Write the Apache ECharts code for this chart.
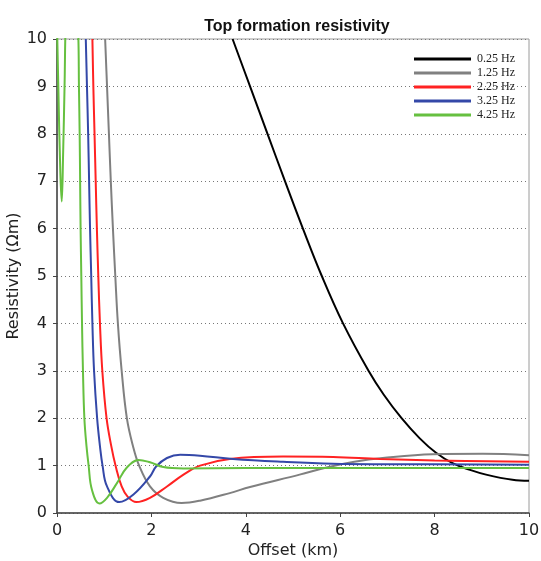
<!DOCTYPE html>
<html>
<head>
<meta charset="utf-8">
<script src="https://cdn.jsdelivr.net/npm/echarts@6/dist/echarts.min.js"></script>
<style>html,body{margin:0;padding:0;background:#fff}#c{width:541px;height:561px}</style>
</head>
<body>
<div id="c"></div>
<script>
var seriesNames = ['0.25 Hz', '1.25 Hz', '2.25 Hz', '3.25 Hz', '4.25 Hz'];
var xTicks = [0, 2, 4, 6, 8, 10];
var yTicks = [0, 1, 2, 3, 4, 5, 6, 7, 8, 9, 10];

var off_025 = [3.72, 4.09, 4.46, 4.83, 5.21, 5.61, 6.06, 6.60, 6.92, 7.30, 7.68, 8.03, 8.38, 8.75, 9.09, 9.65, 10.0];
var res_025 = [10.0, 9.0, 8.0, 7.0, 6.0, 5.0, 4.0, 3.0, 2.50, 2.0, 1.58, 1.27, 1.05, 0.91, 0.81, 0.70, 0.68];

var off_125 = [1.02, 1.06, 1.10, 1.14, 1.185, 1.235, 1.29, 1.37, 1.48, 1.61, 1.74, 1.97, 2.25, 2.64, 3.03, 3.66, 4.09, 5.14, 5.71, 6.30, 6.90, 7.96, 9.02, 10.0];
var res_125 = [10.0, 9.0, 8.0, 7.0, 6.0, 5.0, 4.0, 3.0, 2.0, 1.41, 1.0, 0.56, 0.32, 0.21, 0.26, 0.42, 0.55, 0.81, 0.96, 1.08, 1.16, 1.24, 1.25, 1.22];

var off_225 = [0.75, 0.77, 0.795, 0.82, 0.845, 0.875, 0.91, 0.96, 1.05, 1.15, 1.24, 1.37, 1.50, 1.68, 1.97, 2.33, 2.68, 3.03, 3.66, 4.79, 5.85, 6.84, 8.0, 10.0];
var res_225 = [10.0, 9.0, 8.0, 7.0, 6.0, 5.0, 4.0, 3.0, 2.0, 1.41, 1.0, 0.56, 0.34, 0.23, 0.32, 0.56, 0.81, 1.0, 1.14, 1.19, 1.18, 1.14, 1.11, 1.08];

var off_325 = [0.61, 0.635, 0.66, 0.68, 0.70, 0.725, 0.75, 0.785, 0.85, 0.91, 0.965, 1.06, 1.32, 1.62, 1.97, 2.10, 2.33, 2.61, 3.03, 3.73, 4.79, 5.85, 7.0, 10.0];
var res_325 = [10.0, 9.0, 8.0, 7.0, 6.0, 5.0, 4.0, 3.0, 2.0, 1.41, 1.0, 0.56, 0.23, 0.39, 0.77, 0.98, 1.16, 1.23, 1.21, 1.14, 1.08, 1.04, 1.03, 1.02];

var off_425 = [0.0, 0.03, 0.07, 0.10, 0.13, 0.16, 0.19, 0.32, 0.45, 0.465, 0.48, 0.49, 0.50, 0.515, 0.53, 0.55, 0.58, 0.625, 0.67, 0.74, 0.90, 1.06, 1.27, 1.48, 1.73, 1.97, 2.25, 2.68, 4.0, 10.0];
var res_425 = [10.3, 8.9, 7.2, 6.57, 7.6, 9.0, 10.5, 13.0, 10.1, 9.0, 8.0, 7.0, 6.0, 5.0, 4.0, 3.0, 2.0, 1.41, 1.0, 0.49, 0.20, 0.32, 0.63, 0.96, 1.12, 1.07, 0.97, 0.94, 0.95, 0.95];

var colors = ['#000000', '#808080', '#ff2222', '#3448a8', '#66c040'];

function pairs(xs, ys) { return xs.map(function (x, i) { return [x, ys[i]]; }); }
var allData = [pairs(off_025, res_025), pairs(off_125, res_125), pairs(off_225, res_225), pairs(off_325, res_325), pairs(off_425, res_425)];

var chart = echarts.init(document.getElementById('c'), null, { renderer: 'canvas' });
chart.setOption({
  animation: false,
  backgroundColor: '#fff',
  title: {
    text: 'Top formation resistivity',
    left: 292, top: 14, textAlign: 'center',
    textStyle: { fontFamily: 'Liberation Sans', fontWeight: 'bold', fontSize: 16, color: '#111' }
  },
  legend: {
    orient: 'vertical', left: 414, top: 52, padding: 0,
    itemWidth: 57, itemHeight: 3, itemGap: 0, icon: 'rect',
    data: seriesNames,
    textStyle: { fontFamily: 'Liberation Serif', fontSize: 12, color: '#222', lineHeight: 14, padding: [0, 0, 0, 1] }
  },
  grid: { left: 57, right: 12, top: 39, bottom: 48, show: true, borderColor: '#9a9a9a', borderWidth: 1, backgroundColor: 'transparent', outerBoundsMode: 'none', containLabel: false },
  xAxis: {
    type: 'value', min: xTicks[0], max: xTicks[xTicks.length - 1], interval: 2,
    name: 'Offset (km)', nameLocation: 'middle', nameGap: 30, nameMoveOverlap: false,
    nameTextStyle: { fontFamily: 'DejaVu Sans', fontSize: 16, color: '#222' },
    axisLine: { show: true, lineStyle: { color: '#444', width: 1.5 } },
    axisTick: { show: true, length: 4, lineStyle: { color: '#444' } },
    axisLabel: { fontFamily: 'DejaVu Sans', fontSize: 16, color: '#222', margin: 10 },
    splitLine: { show: false }
  },
  yAxis: {
    type: 'value', min: yTicks[0], max: yTicks[yTicks.length - 1], interval: 1,
    name: 'Resistivity (Ωm)', nameLocation: 'middle', nameGap: 35, nameMoveOverlap: false,
    nameTextStyle: { fontFamily: 'DejaVu Sans', fontSize: 16, color: '#222' },
    axisLine: { show: true, lineStyle: { color: '#444', width: 1.5 } },
    axisTick: { show: true, length: 4, lineStyle: { color: '#444' } },
    axisLabel: { fontFamily: 'DejaVu Sans', fontSize: 16, color: '#222', margin: 10 },
    splitLine: { show: true, lineStyle: { color: '#777', type: [1, 3], width: 1 } }
  },
  series: seriesNames.map(function (n, i) {
    return {
      name: n, type: 'line', data: allData[i], showSymbol: false, symbol: 'none',
      smooth: 0.4, clip: true,
      lineStyle: { color: colors[i], width: 2 },
      itemStyle: { color: colors[i] }
    };
  })
});
</script>
</body>
</html>
